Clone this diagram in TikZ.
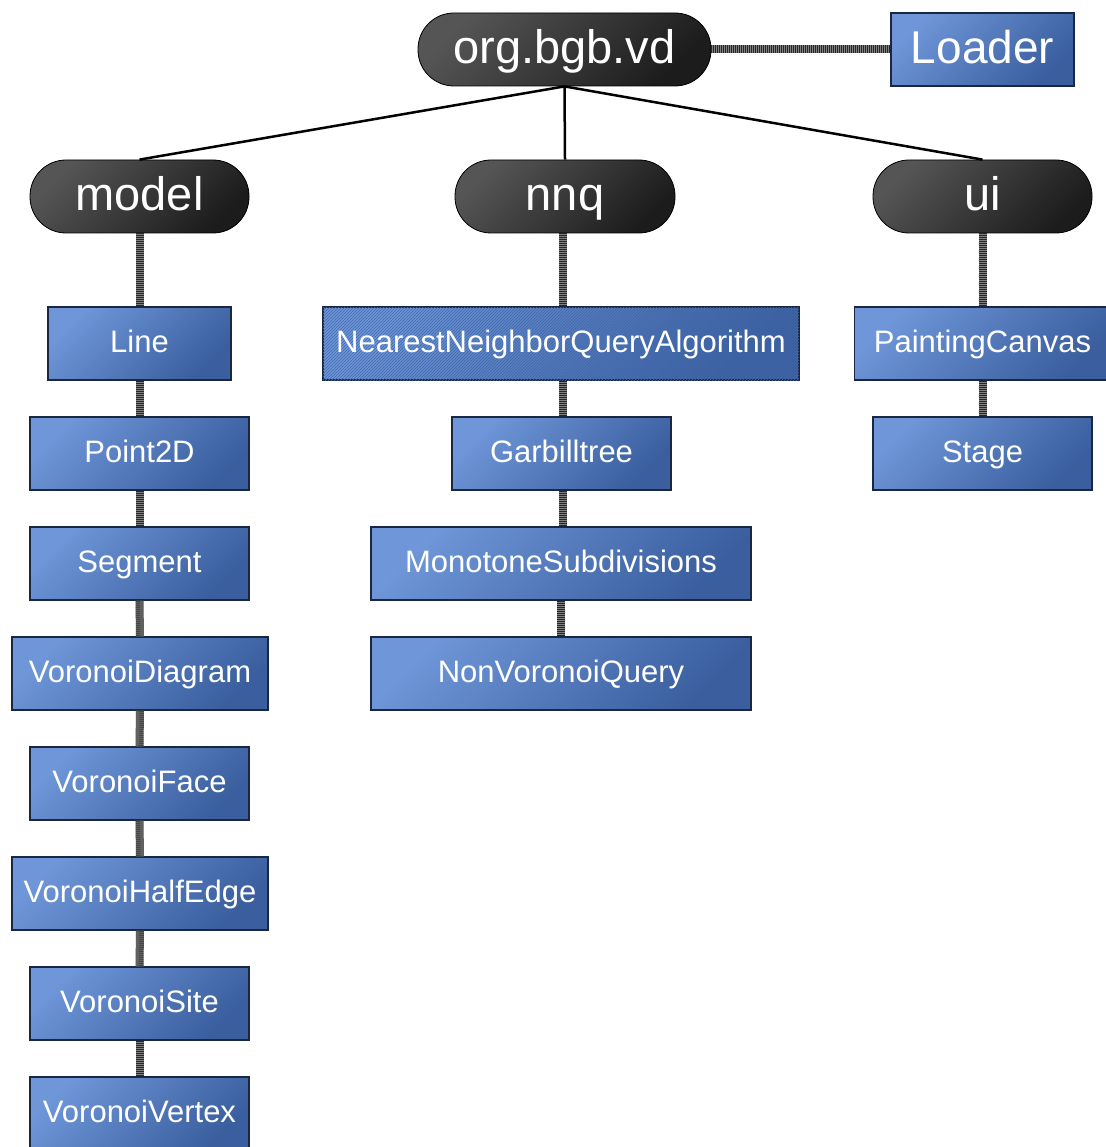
\documentclass[tikz,border=0pt]{standalone}
\usepackage{fontspec}
\setmainfont{Liberation Sans}
\usetikzlibrary{patterns}
\definecolor{bluelt}{HTML}{6E96D8}
\definecolor{bluedk}{HTML}{3A5E9E}
\definecolor{pilllt}{HTML}{555555}
\definecolor{pilldk}{HTML}{1C1C1C}
\definecolor{boxedge}{HTML}{1A2740}
\definecolor{hatchc}{HTML}{4168AA}
\tikzset{
  pill/.style={draw=black, line width=0.8pt, rounded corners=36pt, shading=axis,
    top color=pilllt, bottom color=pilldk, shading angle=45, text=white,
    minimum height=73pt, inner sep=0pt, font=\fontsize{47}{50}\selectfont,
    text height=34pt, text depth=5pt},
  cls/.style={draw=boxedge, line width=1.2pt, shading=axis, top color=bluelt,
    bottom color=bluedk, shading angle=45, text=white, minimum height=73pt,
    inner sep=0pt, font=\fontsize{31}{34}\selectfont,
    text height=22pt, text depth=5pt},
  hatch/.style={postaction={pattern=north east lines, pattern color=hatchc}},
  chk/.style={line width=8pt, draw=black!50, postaction={draw=black!85, line width=8pt, dash pattern=on 0.9pt off 1.1pt}},
  thin/.style={line width=2.5pt, draw=black},
}
\begin{document}
\begin{tikzpicture}[x=1pt,y=-1pt]
\useasboundingbox (0,0) rectangle (1105,1147);
% top
\node[pill, minimum width=293pt] (org) at (564.5,49.5) {org.bgb.vd};
\node[cls, minimum width=183pt, font=\fontsize{46}{50}\selectfont, text height=33pt, text depth=4pt] (loader) at (982.5,49.5) {Loader};
\node[pill, minimum width=219pt] (model) at (139.5,196.5) {model};
\node[pill, minimum width=220pt] (nnq) at (565,196.5) {nnq};
\node[pill, minimum width=219pt] (ui) at (982.5,196.5) {ui};
% model column
\node[cls, minimum width=183pt] (line) at (139.5,343.5) {Line};
\node[cls, minimum width=219pt] (point) at (139.5,453.5) {Point2D};
\node[cls, minimum width=219pt] (segment) at (139.5,563.5) {Segment};
\node[cls, minimum width=256pt] (vdiag) at (140,673.5) {VoronoiDiagram};
\node[cls, minimum width=219pt] (vface) at (139.5,783.5) {VoronoiFace};
\node[cls, minimum width=256pt] (vhalf) at (140,893.5) {VoronoiHalfEdge};
\node[cls, minimum width=219pt] (vsite) at (139.5,1003.5) {VoronoiSite};
\node[cls, minimum width=219pt] (vvert) at (139.5,1113.5) {VoronoiVertex};
% nnq column
\node[cls, hatch, minimum width=476pt] (nnqa) at (561,343.5) {NearestNeighborQueryAlgorithm};
\node[cls, minimum width=219pt] (garb) at (561.5,453.5) {Garbilltree};
\node[cls, minimum width=380pt] (mono) at (561,563.5) {MonotoneSubdivisions};
\node[cls, minimum width=380pt] (nonv) at (561,673.5) {NonVoronoiQuery};
% ui column
\node[cls, minimum width=256pt] (paint) at (982.5,343.5) {PaintingCanvas};
\node[cls, minimum width=219pt] (stage) at (982.5,453.5) {Stage};
% connectors
\draw[thin] (org.south) -- (model.north);
\draw[thin] (org.south) -- (nnq.north);
\draw[thin] (org.south) -- (ui.north);
\draw[chk] (org.east) -- (loader.west);
\draw[chk] (model.south) -- (line.north);
\draw[chk] (line.south) -- (point.north);
\draw[chk] (point.south) -- (segment.north);
\draw[chk] (segment.south) -- (vdiag.north);
\draw[chk] (vdiag.south) -- (vface.north);
\draw[chk] (vface.south) -- (vhalf.north);
\draw[chk] (vhalf.south) -- (vsite.north);
\draw[chk] (vsite.south) -- (vvert.north);
\draw[chk] ([xshift=-2pt]nnq.south) -- ([xshift=-2pt]nnq.south |- nnqa.north);
\draw[chk] ([xshift=2pt]nnqa.south) -- ([xshift=2pt]nnqa.south |- garb.north);
\draw[chk] ([xshift=1.5pt]garb.south) -- ([xshift=1.5pt]garb.south |- mono.north);
\draw[chk] (mono.south) -- (nonv.north);
\draw[chk] (ui.south) -- (paint.north);
\draw[chk] (paint.south) -- (stage.north);
\end{tikzpicture}
\end{document}
